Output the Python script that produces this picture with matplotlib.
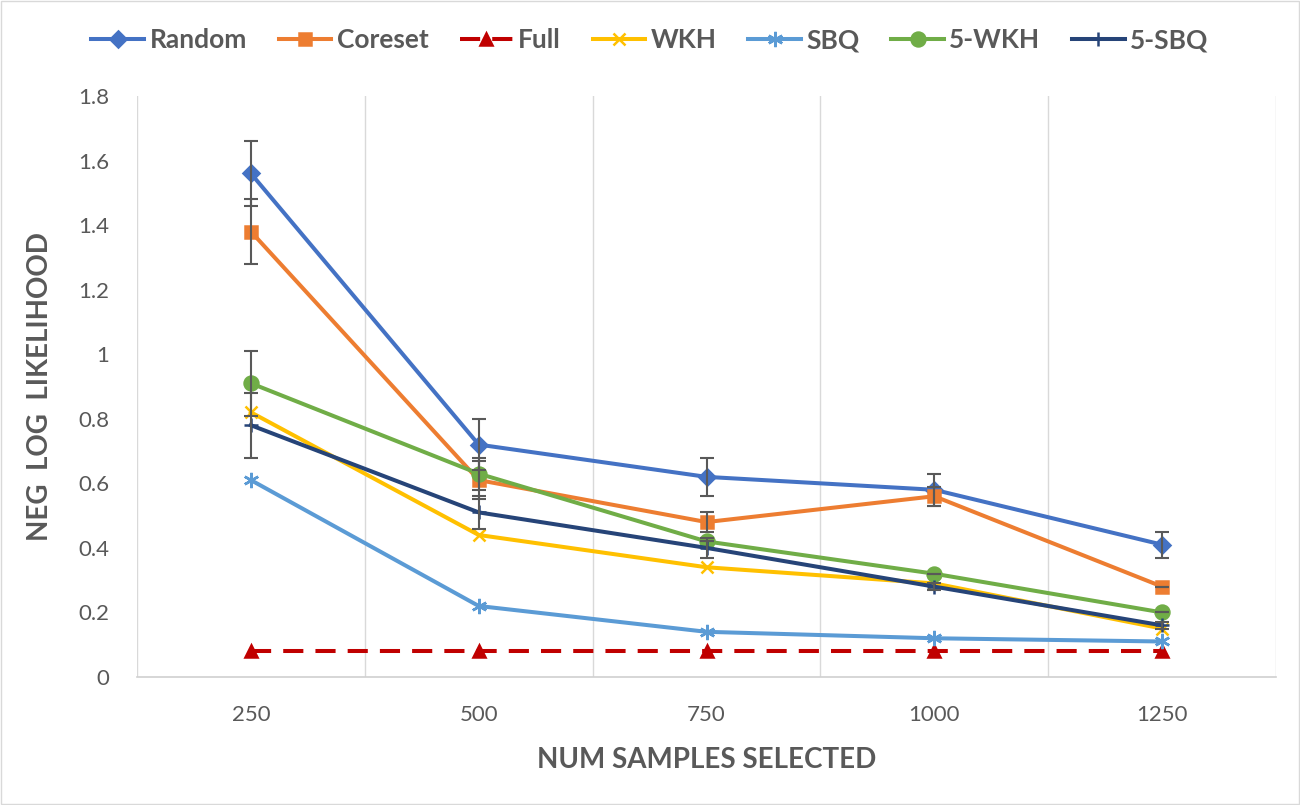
import matplotlib.pyplot as plt
from matplotlib.patches import Rectangle

plt.rcParams['font.family'] = ['Lato', 'DejaVu Sans']

samples = ["250", "500", "750", "1000", "1250"]

random_nll = [1.56, 0.72, 0.62, 0.58, 0.41]
coreset_nll = [1.38, 0.61, 0.48, 0.56, 0.28]
full_nll = [0.08, 0.08, 0.08, 0.08, 0.08]
wkh_nll = [0.82, 0.44, 0.34, 0.29, 0.15]
sbq_nll = [0.61, 0.22, 0.14, 0.12, 0.11]
wkh5_nll = [0.91, 0.63, 0.42, 0.32, 0.20]
sbq5_nll = [0.78, 0.51, 0.40, 0.28, 0.16]

random_err = [0.10, 0.08, 0.06, 0.05, 0.04]
coreset_err = [0.10, 0.06, 0.03, 0.03, 0.0]
wkh5_err = [0.10, 0.05, 0.0, 0.0, 0.0]
sbq5_err = [0.10, 0.05, 0.03, 0.01, 0.01]

gray = "#595959"
asterisk = (6, 2, 0)

fig = plt.figure(figsize=(13, 8.05), dpi=100)
ax = fig.add_axes([137 / 1300, 1 - 677 / 805, (1276 - 137) / 1300, (677 - 96) / 805])

x = list(range(len(samples)))
series = [
    ("Random", random_nll, random_err, "#4472C4", "D", 8, "-"),
    ("Coreset", coreset_nll, coreset_err, "#ED7D31", "s", 9, "-"),
    ("Full", full_nll, None, "#C00000", "^", 9, (0, (5, 3))),
    ("WKH", wkh_nll, None, "#FFC000", "x", 9, "-"),
    ("SBQ", sbq_nll, None, "#5B9BD5", asterisk, 11, "-"),
    ("5-WKH", wkh5_nll, wkh5_err, "#70AD47", "o", 10, "-"),
    ("5-SBQ", sbq5_nll, sbq5_err, "#264478", "+", 10, "-"),
]

for name, vals, err, col, mk, ms, ls in series:
    ax.plot(x, vals, color=col, marker=mk, markersize=ms, linestyle=ls,
            linewidth=2.9, markeredgewidth=1.8, label=name, zorder=3)
    if err is not None:
        ax.errorbar(x, vals, yerr=err, fmt="none", ecolor=gray, elinewidth=1.5,
                    capsize=5, capthick=1.5, zorder=4)

ax.set_xlim(-0.5, 4.5)
ax.set_ylim(0, 1.8)
ax.set_yticks([0, 0.2, 0.4, 0.6, 0.8, 1, 1.2, 1.4, 1.6, 1.8])
ax.set_yticklabels(["0", "0.2", "0.4", "0.6", "0.8", "1", "1.2", "1.4", "1.6", "1.8"])
ax.set_xticks(x)
ax.set_xticklabels(samples)
ax.tick_params(axis="both", length=0, labelsize=16, labelcolor=gray)
ax.tick_params(axis="y", pad=20)
ax.tick_params(axis="x", pad=20)

for gx in [-0.5, 0.5, 1.5, 2.5, 3.5, 4.5]:
    ax.axvline(gx, color="#D9D9D9", linewidth=1, zorder=0)

for s in ["top", "left", "right"]:
    ax.spines[s].set_visible(False)
ax.spines["bottom"].set_color("#D0D0D0")
ax.spines["bottom"].set_linewidth(1.2)

ax.set_xlabel("NUM SAMPLES SELECTED", fontsize=20, fontweight="bold", color=gray, labelpad=16)
ax.set_ylabel("NEG  LOG  LIKELIHOOD", fontsize=20, fontweight="bold", color=gray, labelpad=18)

leg = fig.legend(loc="center", bbox_to_anchor=(0.5, 1 - 40 / 805), ncol=7, frameon=False,
                 handlelength=2.0, handletextpad=0.2, columnspacing=1.2,
                 prop={"weight": "bold", "size": 19})
for t in leg.get_texts():
    t.set_color(gray)

fig.patches.append(Rectangle((0.001, 0.001), 0.998, 0.998, transform=fig.transFigure,
                             fill=False, edgecolor="#D9D9D9", linewidth=1))

fig.savefig("out.png", dpi=100)
